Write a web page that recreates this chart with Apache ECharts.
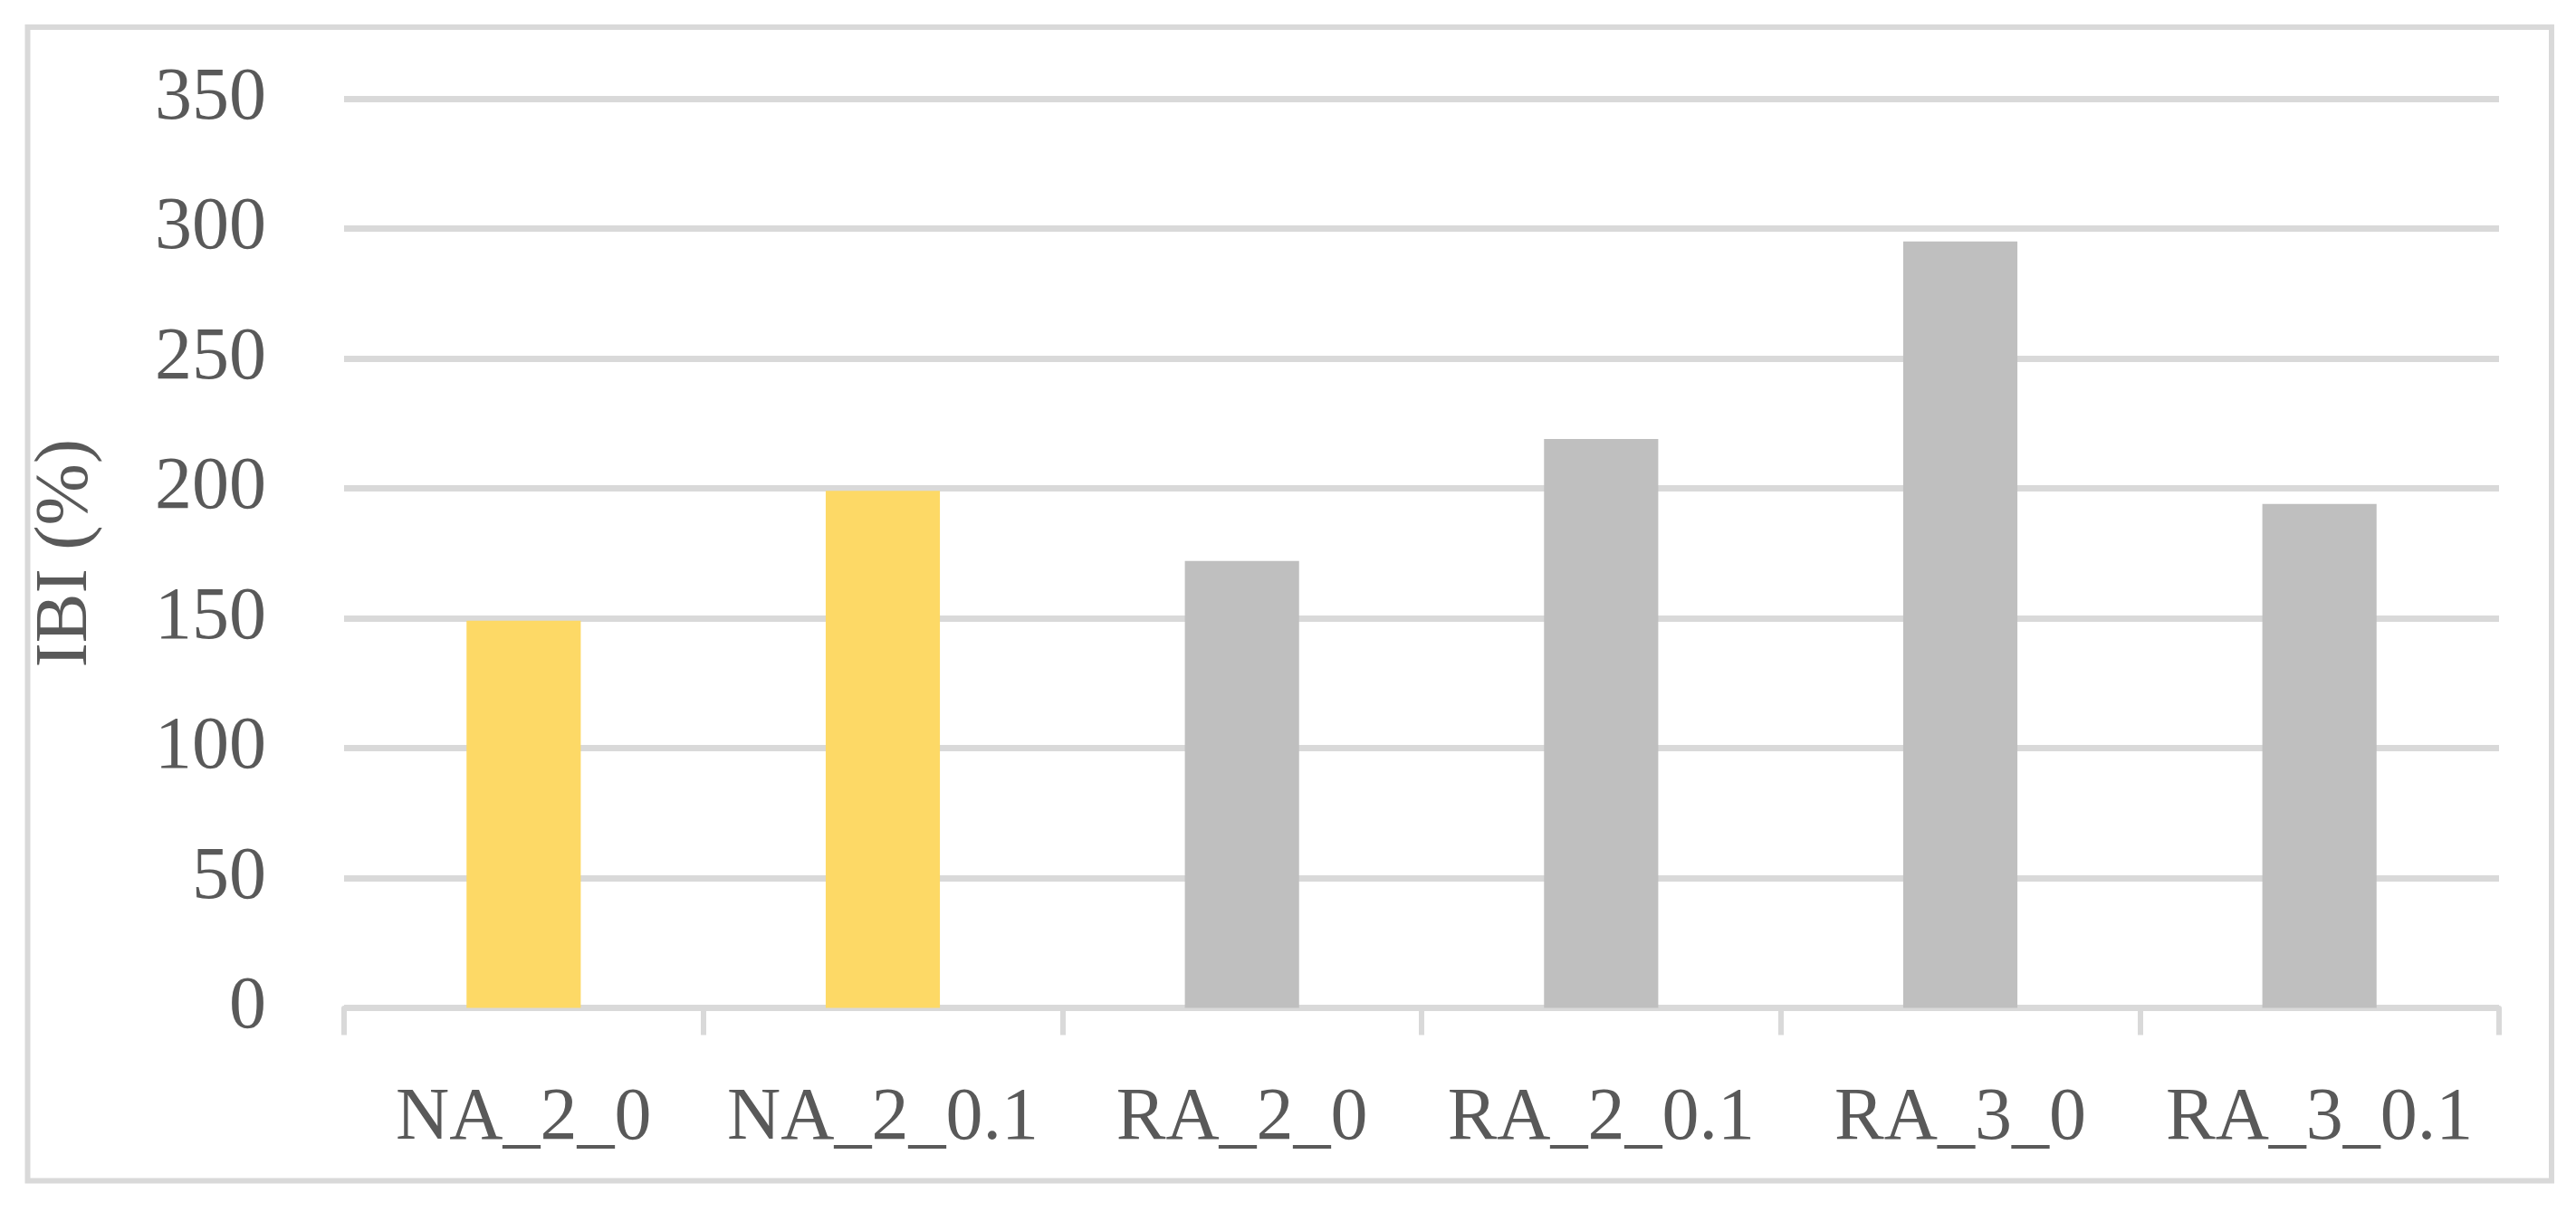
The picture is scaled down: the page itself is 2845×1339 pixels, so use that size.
<!DOCTYPE html>
<html>
<head>
<meta charset="utf-8">
<script src="https://cdn.jsdelivr.net/npm/echarts@6/dist/echarts.min.js"></script>
<style>
html,body{margin:0;padding:0;background:#fff;}
#c{width:2845px;height:1339px;}
</style>
</head>
<body>
<div id="c"></div>
<script>
const categories = ['NA_2_0', 'NA_2_0.1', 'RA_2_0', 'RA_2_0.1', 'RA_3_0', 'RA_3_0.1'];
const values = [149, 199, 172, 219, 295, 194];
const barColors = ['#FDD966', '#FDD966', '#BFBFBF', '#BFBFBF', '#BFBFBF', '#BFBFBF'];
const yTicks = [0, 50, 100, 150, 200, 250, 300, 350];
const yName = 'IBI (%)';

const FONT = '"Liberation Serif", "DejaVu Serif", serif';
const TXT = '#595959';
const GRID = '#D9D9D9';

const chart = echarts.init(document.getElementById('c'), null, {renderer: 'canvas'});
chart.setOption({
  animation: false,
  backgroundColor: '#ffffff',
  graphic: [{
    type: 'rect',
    shape: {x: 30.5, y: 30, width: 2787.5, height: 1274.5},
    style: {fill: 'none', stroke: GRID, lineWidth: 6},
    silent: true
  }],
  grid: {left: 380, right: 85, top: 109, bottom: 225.5, containLabel: false},
  xAxis: {
    type: 'category',
    data: categories,
    axisLine: {show: true, lineStyle: {color: GRID, width: 6}},
    axisTick: {show: true, length: 30, lineStyle: {color: GRID, width: 6}},
    axisLabel: {color: TXT, fontFamily: FONT, fontSize: 82, margin: 82, interval: 0, hideOverlap: false},
    splitLine: {show: false}
  },
  yAxis: {
    type: 'value',
    min: yTicks[0],
    max: yTicks[yTicks.length - 1],
    interval: 50,
    name: yName,
    nameLocation: 'middle',
    nameGap: 266,
    nameTextStyle: {color: TXT, fontFamily: FONT, fontSize: 82},
    axisLine: {show: false},
    axisTick: {show: false},
    axisLabel: {color: TXT, fontFamily: FONT, fontSize: 82, margin: 86},
    splitLine: {show: true, lineStyle: {color: GRID, width: 7}}
  },
  series: [{
    type: 'bar',
    data: values.map((v, i) => ({value: v, itemStyle: {color: barColors[i]}})),
    barWidth: '31.8%',
    z: 3
  }]
});
</script>
</body>
</html>
